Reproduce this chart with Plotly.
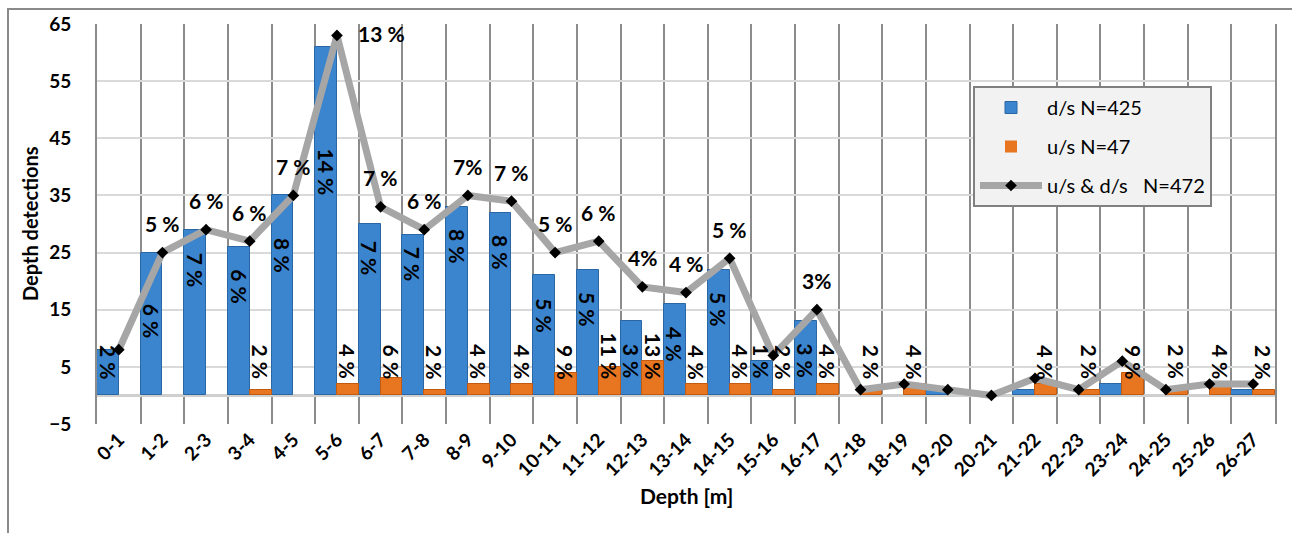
import plotly.graph_objects as go

# Depth bins (m) and detection counts
depth_bins = ["0-1", "1-2", "2-3", "3-4", "4-5", "5-6", "6-7", "7-8", "8-9", "9-10",
              "10-11", "11-12", "12-13", "13-14", "14-15", "15-16", "16-17", "17-18",
              "18-19", "19-20", "20-21", "21-22", "22-23", "23-24", "24-25", "25-26", "26-27"]
ds_counts = [8, 25, 29, 26, 35, 61, 30, 28, 33, 32, 21, 22, 13, 16, 22, 6, 13, 0,
             0, 1, 0, 1, 0, 2, 0, 0, 1]
us_counts = [0, 0, 0, 1, 0, 2, 3, 1, 2, 2, 4, 5, 6, 2, 2, 1, 2, 1,
             2, 0, 0, 2, 1, 4, 1, 2, 1]
total_counts = [8, 25, 29, 27, 35, 63, 33, 29, 35, 34, 25, 27, 19, 18, 24, 7, 15, 1,
                2, 1, 0, 3, 1, 6, 1, 2, 2]
line_pct_labels = ["", "5 %", "6 %", "6 %", "7 %", "13 %", "7 %", "6 %", "7%", "7 %",
                   "5 %", "6 %", "4%", "4 %", "5 %", "", "3%", "",
                   "", "", "", "", "", "", "", "", ""]
N_DS, N_US, N_ALL = 425, 47, 472
y_ticks = [-5, 5, 15, 25, 35, 45, 55, 65]

FONT = "Lato"
BLUE = "#3b85cf"
BLUE_EDGE = "#2a66a3"
ORANGE = "#e8751f"
ORANGE_EDGE = "#c25a0f"
LINE_GREY = "#a6a6a6"


def edge_widths(values):
    # no outline on empty bins so zero bars stay invisible
    return [0 if v == 0 else 1 for v in values]


fig = go.Figure()
fig.add_trace(go.Bar(
    x=depth_bins, y=ds_counts, name="d/s N=425",
    marker=dict(color=BLUE, line=dict(color=BLUE_EDGE, width=edge_widths(ds_counts))),
    legendgroup="a",
))
fig.add_trace(go.Bar(
    x=depth_bins, y=us_counts, name="u/s N=47",
    marker=dict(color=ORANGE, line=dict(color=ORANGE_EDGE, width=edge_widths(us_counts))),
    legendgroup="b",
))
fig.add_trace(go.Scatter(
    x=depth_bins, y=total_counts, name="u/s & d/s\u00a0\u00a0\u00a0N=472",
    mode="lines+markers",
    line=dict(color=LINE_GREY, width=7),
    marker=dict(symbol="diamond", size=9, color="black"),
    legendgroup="c",
))

annotations = []
label_font = dict(family=FONT, size=21, color="black", weight=700)

# percentage labels inside the d/s bars (vertical text)
ds_label_mid = [5.7, 13, 22, 19, 24.5, 39, 24, 23, 26, 25, 14, 15, 6, 9, 15, 6, 6]
for i, mid in enumerate(ds_label_mid):
    pct = round(100 * ds_counts[i] / N_DS)
    annotations.append(dict(
        x=depth_bins[i], y=mid, xref="x", yref="y", text=f"{pct} %",
        textangle=90, showarrow=False, xshift=-11, font=label_font,
        xanchor="center", yanchor="middle",
    ))

# percentage labels above the u/s bars
for i, v in enumerate(us_counts):
    if v == 0:
        continue
    pct = round(100 * v / N_US)
    annotations.append(dict(
        x=depth_bins[i], y=2.4, xref="x", yref="y", text=f"{pct} %",
        textangle=90, showarrow=False, xshift=11, font=label_font,
        xanchor="center", yanchor="bottom",
    ))

# percentage labels for the combined line
line_label_shift = {"5-6": (45, 2)}
for i, txt in enumerate(line_pct_labels):
    if not txt:
        continue
    dx, dy = line_label_shift.get(depth_bins[i], (0, 29))
    annotations.append(dict(
        x=depth_bins[i], y=total_counts[i], xref="x", yref="y", text=txt,
        showarrow=False, xshift=dx, yshift=dy, font=label_font,
        xanchor="center", yanchor="middle",
    ))

# axis titles
annotations.append(dict(
    x=(30 - 97) / 1178, y=0.5, xref="paper", yref="paper", text="Depth detections",
    textangle=-90, showarrow=False, font=dict(family=FONT, size=20, color="black", weight=700),
    xanchor="center", yanchor="middle",
))
annotations.append(dict(
    x=0.5, y=(424 - 495) / 400, xref="paper", yref="paper", text="Depth [m]",
    showarrow=False, font=dict(family=FONT, size=21, color="black", weight=700),
    xanchor="center", yanchor="middle",
))

fig.update_layout(
    width=1292, height=533,
    margin=dict(l=97, r=17, t=24, b=109),
    paper_bgcolor="white", plot_bgcolor="white",
    barmode="group", bargap=0.0, bargroupgap=0.0,
    font=dict(family=FONT, color="black"),
    annotations=annotations,
    legend=dict(
        x=(973 - 97) / 1178, y=(424 - 86) / 400, xanchor="left", yanchor="top",
        bgcolor="#f2f2f2", bordercolor="#808080", borderwidth=2,
        font=dict(family=FONT, size=20, color="black"),
        tracegroupgap=10, itemwidth=62,
    ),
    shapes=[dict(
        type="rect", xref="paper", yref="paper",
        x0=(8 - 97) / 1178, x1=(1310 - 97) / 1178,
        y0=(424 - 545) / 400, y1=(424 - 9) / 400,
        line=dict(color="#8a8a8a", width=2), fillcolor="rgba(0,0,0,0)",
    )],
)

fig.update_xaxes(
    type="category", categoryorder="array", categoryarray=depth_bins,
    range=[-0.5, 26.5], tickson="boundaries",
    showgrid=True, gridcolor="#8c8c8c", gridwidth=2,
    tickangle=-45, tickfont=dict(family=FONT, size=19, color="black", weight=700),
    ticks="", showline=False, zeroline=False,
)
fig.update_yaxes(
    range=[-5, 65], tickvals=y_ticks,
    showgrid=True, gridcolor="#d9d9d9", gridwidth=2,
    zeroline=True, zerolinecolor="#cfcfcf", zerolinewidth=3,
    showline=True, mirror=True, linecolor="#8c8c8c", linewidth=2,
    tickfont=dict(family=FONT, size=19, color="black", weight=700),
    ticklabelstandoff=20,
)

fig.write_html("out.html")
